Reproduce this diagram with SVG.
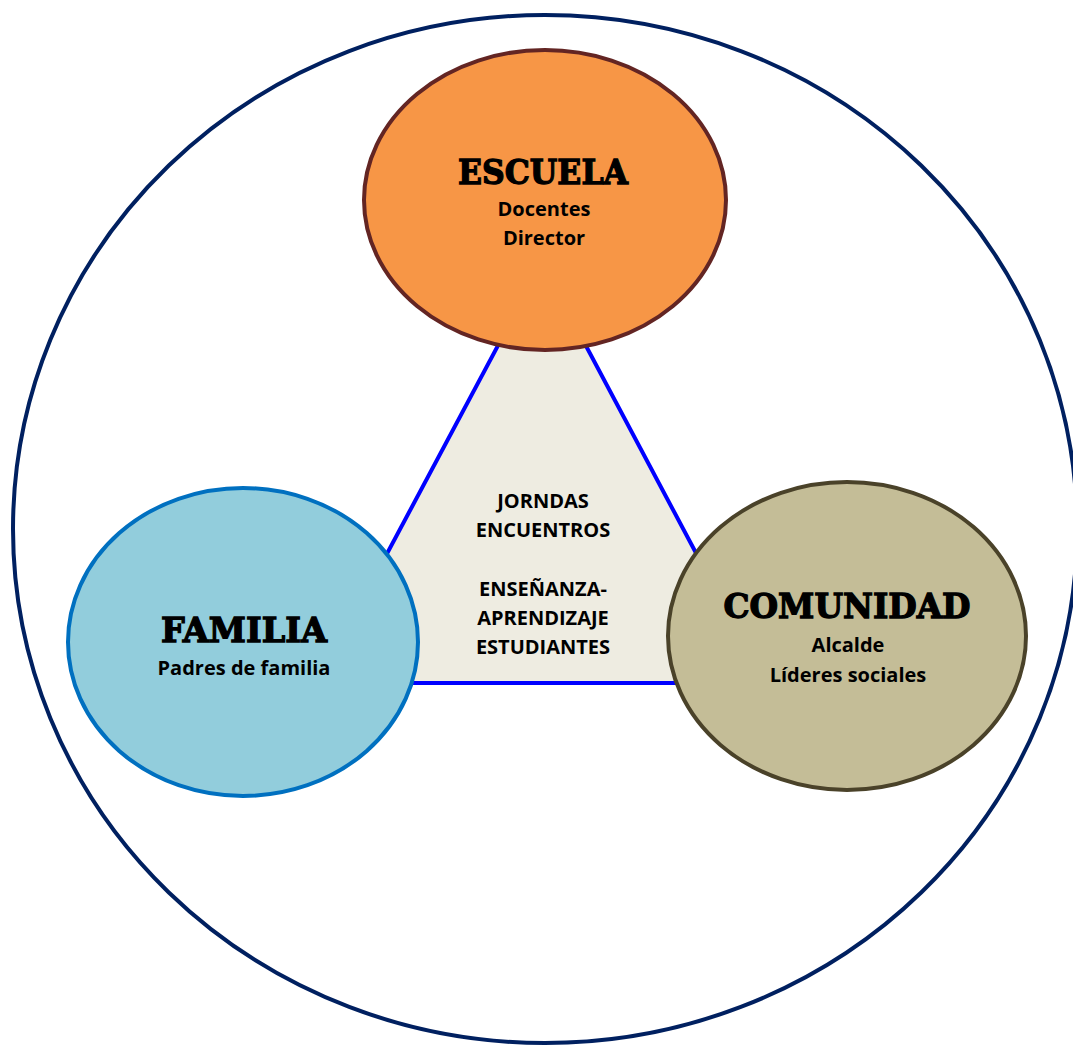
<svg xmlns="http://www.w3.org/2000/svg" width="1073" height="1045" viewBox="0 0 1073 1045">
<style>
.title{font-family:"DejaVu Serif","Liberation Serif",serif;font-weight:bold;font-size:34px;fill:#000;stroke:#000;stroke-width:1.3px;text-anchor:middle}
.sub{font-family:"Open Sans","Noto Sans","Liberation Sans",sans-serif;font-weight:bold;font-size:20px;fill:#000;text-anchor:middle}
</style>
<rect width="1073" height="1045" fill="#fff"/>
<ellipse id="outer" cx="545" cy="529" rx="532" ry="514" fill="none" stroke="#002060" stroke-width="4"/>
<g id="connectors">
<polygon points="542,263 318,683 765,683" fill="#EEECE1" stroke="#0000FF" stroke-width="4" stroke-linejoin="miter"/>
</g>
<g id="centro">
<text class="sub" x="543" y="508">JORNDAS</text>
<text class="sub" x="543" y="537">ENCUENTROS</text>
<text class="sub" x="543" y="596">ENSEÑANZA-</text>
<text class="sub" x="543" y="625">APRENDIZAJE</text>
<text class="sub" x="543" y="654">ESTUDIANTES</text>
</g>
<g id="escuela">
<ellipse cx="545" cy="200" rx="181" ry="150" fill="#F79646" stroke="#632523" stroke-width="4"/>
<text class="title" x="543" y="184" textLength="170" lengthAdjust="spacingAndGlyphs">ESCUELA</text>
<text class="sub" x="544" y="216">Docentes</text>
<text class="sub" x="544" y="245">Director</text>
</g>
<g id="familia">
<ellipse cx="243" cy="642" rx="175" ry="154" fill="#92CDDC" stroke="#0070C0" stroke-width="4"/>
<text class="title" x="244" y="642" textLength="166" lengthAdjust="spacingAndGlyphs">FAMILIA</text>
<text class="sub" x="244" y="675">Padres de familia</text>
</g>
<g id="comunidad">
<ellipse cx="847" cy="636" rx="179" ry="154" fill="#C4BD97" stroke="#4A4229" stroke-width="4"/>
<text class="title" x="847" y="618" textLength="247" lengthAdjust="spacingAndGlyphs">COMUNIDAD</text>
<text class="sub" x="848" y="652">Alcalde</text>
<text class="sub" x="848" y="682">Líderes sociales</text>
</g>
</svg>
